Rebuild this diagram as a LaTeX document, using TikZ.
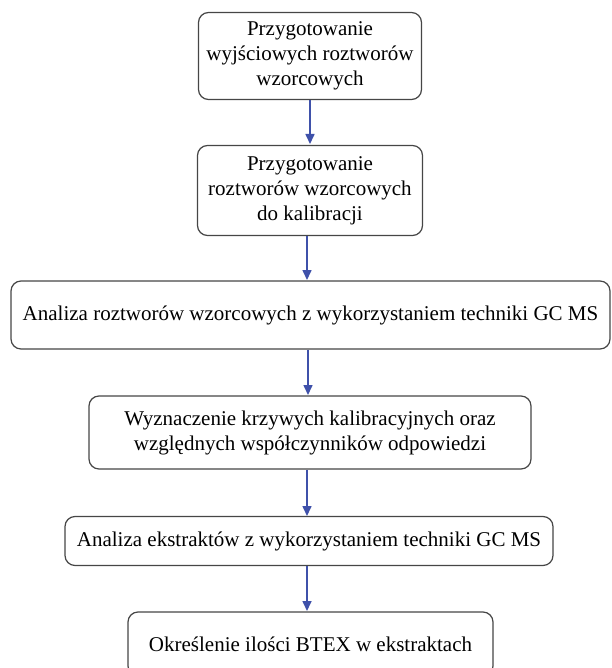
\documentclass[tikz,border=0pt]{standalone}
\usepackage{fontspec}
\setmainfont{Liberation Serif}
\usetikzlibrary{arrows.meta}
\definecolor{arrowblue}{RGB}{63,81,170}
\definecolor{boxgray}{RGB}{70,70,70}
\begin{document}
\begin{tikzpicture}[x=1pt,y=-1pt,
  box/.style={draw=boxgray,line width=1.2pt,rounded corners=10pt,fill=white,align=center,inner sep=0pt,
    font=\fontsize{21}{25}\selectfont},
  flow/.style={draw=arrowblue,line width=1.6pt,-{Triangle[length=10pt,width=9pt]}}]
\useasboundingbox (0,0) rectangle (611,668);
\clip (0,0) rectangle (611,668);
\node[box,minimum width=223pt,minimum height=87pt] (b1) at (310,56) {Przygotowanie\\wyjściowych roztworów\\wzorcowych};
\node[box,minimum width=225pt,minimum height=90pt] (b2) at (310,190.5) {Przygotowanie\\roztworów wzorcowych\\do kalibracji};
\node[box,minimum width=599pt,minimum height=68pt] (b3) at (310.5,315) {Analiza roztworów wzorcowych z wykorzystaniem techniki GC MS};
\node[box,minimum width=442pt,minimum height=73pt] (b4) at (310,432.5) {Wyznaczenie krzywych kalibracyjnych oraz\\względnych współczynników odpowiedzi};
\node[box,minimum width=488pt,minimum height=49pt] (b5) at (309,541) {Analiza ekstraktów z wykorzystaniem techniki GC MS};
\node[box,minimum width=365pt,minimum height=64pt] (b6) at (310.5,644) {Określenie ilości BTEX w ekstraktach};
\draw[flow] (b1.south -| 310,0) -- (310,144);
\draw[flow] (b2.south -| 307,0) -- (307,280);
\draw[flow] (b3.south -| 308,0) -- (308,395);
\draw[flow] (b4.south -| 307,0) -- (307,516);
\draw[flow] (b5.south -| 307,0) -- (307,611);
\end{tikzpicture}
\end{document}
